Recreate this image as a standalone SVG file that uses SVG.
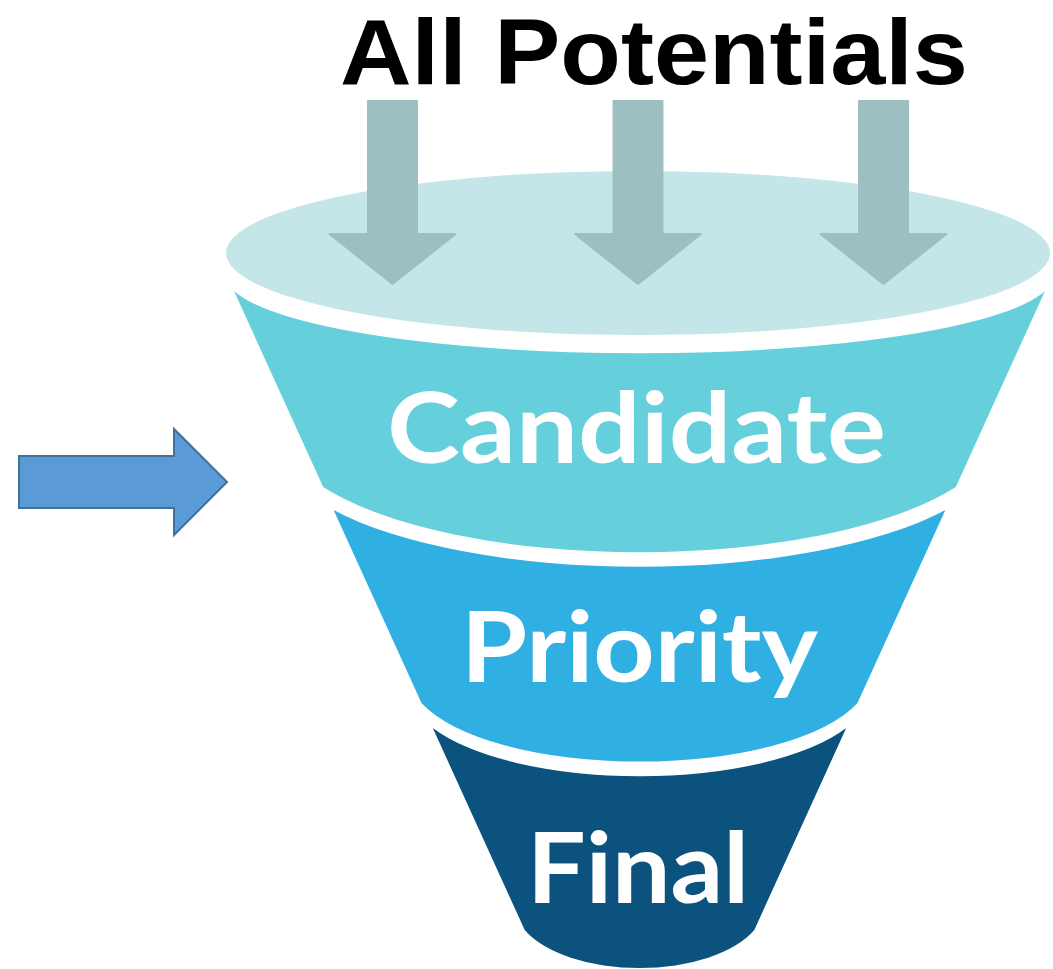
<svg xmlns="http://www.w3.org/2000/svg" width="1053" height="969" viewBox="0 0 1053 969">
  <style>
    .lbl { font-family: "Lato", "Liberation Sans", "DejaVu Sans", sans-serif; font-weight: 700; font-size: 97px; }
    .title { font-family: "Liberation Sans", "Lato", sans-serif; font-weight: 700; font-size: 92px; }
    .white { fill: #ffffff; }
    .down { fill: #9dbfc2; stroke: #9dbfc2; stroke-width: 2; stroke-linejoin: round; }
  </style>
  <defs>
    <path id="downArrow" d="M -24.5 101 L 24.5 101 L 24.5 234 L 63 234 L 0 284 L -63 234 L -24.5 234 Z"/>
  </defs>
  <rect width="1053" height="969" fill="#ffffff"/>

  <g id="title">
    <text class="title" x="340" y="84" textLength="628" lengthAdjust="spacingAndGlyphs" fill="#000000">All Potentials</text>
  </g>

  <g id="top-ellipse">
    <ellipse cx="638" cy="253" rx="412" ry="82" fill="#c5e6e9"/>
  </g>

  <g id="candidate">
    <path d="M 234 291 A 414 78 0 0 0 1045 291 L 955.8 487 A 360 125 0 0 1 323.2 487 Z" fill="#65d0db"/>
    <text class="lbl white" x="387" y="463" textLength="499" lengthAdjust="spacingAndGlyphs">Candidate</text>
  </g>

  <g id="priority">
    <path d="M 333.6 510 A 360 120 0 0 0 945.4 510 L 857.5 703 A 230 86 0 0 1 421.5 703 Z" fill="#30afe3"/>
    <text class="lbl white" x="461" y="682" textLength="357" lengthAdjust="spacingAndGlyphs">Priority</text>
  </g>

  <g id="final">
    <path d="M 432.8 728 A 230 86 0 0 0 846.2 728 L 754.3 930 A 125 63 0 0 1 524.7 930 Z" fill="#0b527e"/>
    <text class="lbl white" x="527" y="903" textLength="222" lengthAdjust="spacingAndGlyphs">Final</text>
  </g>

  <g id="connectors">
    <use href="#downArrow" class="down" transform="translate(392.5 0)"/>
    <use href="#downArrow" class="down" transform="translate(638 0)"/>
    <use href="#downArrow" class="down" transform="translate(883.5 0)"/>
    <polygon points="19,456 174,456 174,429 227,482 174,535 174,508 19,508" fill="#5b9bd5" stroke="#41719c" stroke-width="2"/>
  </g>
</svg>
